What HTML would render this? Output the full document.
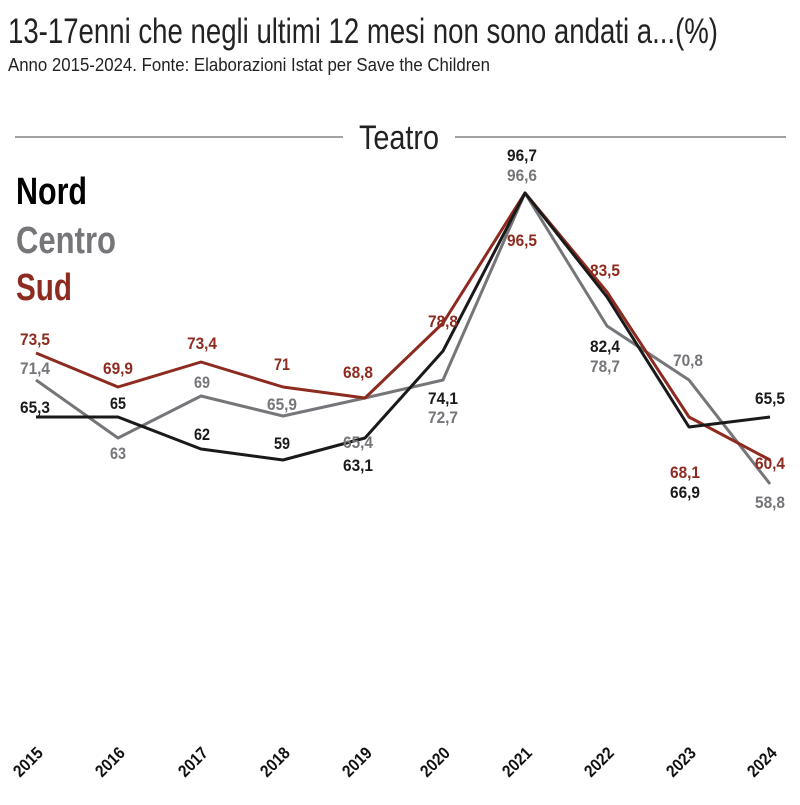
<!DOCTYPE html>
<html><head><meta charset="utf-8"><style>
body{margin:0;background:#fff}
svg text{font-family:"Liberation Sans Narrow","Liberation Sans",sans-serif}
</style></head><body>
<svg width="800" height="800" viewBox="0 0 800 800" xmlns="http://www.w3.org/2000/svg">
<text x="8" y="43" font-size="35" fill="#222" textLength="710" lengthAdjust="spacingAndGlyphs">13-17enni che negli ultimi 12 mesi non sono andati a...(%)</text>
<text x="8" y="71" font-size="18" fill="#222" textLength="482" lengthAdjust="spacingAndGlyphs">Anno 2015-2024. Fonte: Elaborazioni Istat per Save the Children</text>
<line x1="15" y1="137" x2="343" y2="137" stroke="#444" stroke-width="1"/>
<line x1="455" y1="137" x2="786" y2="137" stroke="#444" stroke-width="1"/>
<text x="399" y="149" font-size="34" fill="#222" text-anchor="middle" textLength="80" lengthAdjust="spacingAndGlyphs">Teatro</text>
<g font-weight="bold" font-size="38">
<text x="16" y="204" fill="#000" textLength="71" lengthAdjust="spacingAndGlyphs">Nord</text>
<text x="16" y="253" fill="#76767a" textLength="100" lengthAdjust="spacingAndGlyphs">Centro</text>
<text x="16" y="300" fill="#8e2b20" textLength="56" lengthAdjust="spacingAndGlyphs">Sud</text>
</g>
<g fill="none" stroke-width="3" stroke-linejoin="round">
<polyline stroke="#76767a" points="36,380 118,438 201,396 283,416 365,398 443,380 525,193 607,326 689,380 770,484"/>
<polyline stroke="#8e2b20" points="36,353 118,387 201,362 283,387 365,398 443,323 525,193 607,292 689,417 770,460"/>
<polyline stroke="#1a1a1a" points="36,417 118,417 201,449 283,460 365,438 443,351 525,193 607,297 689,427 770,417"/>
</g>
<g font-weight="bold" font-size="17" text-anchor="middle" lengthAdjust="spacingAndGlyphs">
<g fill="#1a1a1a">
<text x="35" y="413" textLength="30" lengthAdjust="spacingAndGlyphs">65,3</text><text x="118" y="409" textLength="16" lengthAdjust="spacingAndGlyphs">65</text><text x="202" y="440" textLength="16" lengthAdjust="spacingAndGlyphs">62</text><text x="282" y="449" textLength="16" lengthAdjust="spacingAndGlyphs">59</text><text x="358" y="471" textLength="30" lengthAdjust="spacingAndGlyphs">63,1</text><text x="443" y="404" textLength="30" lengthAdjust="spacingAndGlyphs">74,1</text><text x="522" y="161" textLength="30" lengthAdjust="spacingAndGlyphs">96,7</text><text x="605" y="352" textLength="30" lengthAdjust="spacingAndGlyphs">82,4</text><text x="685" y="498" textLength="30" lengthAdjust="spacingAndGlyphs">66,9</text><text x="770" y="404" textLength="30" lengthAdjust="spacingAndGlyphs">65,5</text>
</g>
<g fill="#76767a">
<text x="35" y="374" textLength="30" lengthAdjust="spacingAndGlyphs">71,4</text><text x="118" y="459" textLength="16" lengthAdjust="spacingAndGlyphs">63</text><text x="202" y="388" textLength="16" lengthAdjust="spacingAndGlyphs">69</text><text x="282" y="410" textLength="30" lengthAdjust="spacingAndGlyphs">65,9</text><text x="358" y="448" textLength="30" lengthAdjust="spacingAndGlyphs">65,4</text><text x="443" y="423" textLength="30" lengthAdjust="spacingAndGlyphs">72,7</text><text x="522" y="181" textLength="30" lengthAdjust="spacingAndGlyphs">96,6</text><text x="605" y="372" textLength="30" lengthAdjust="spacingAndGlyphs">78,7</text><text x="688" y="366" textLength="30" lengthAdjust="spacingAndGlyphs">70,8</text><text x="770" y="508" textLength="30" lengthAdjust="spacingAndGlyphs">58,8</text>
</g>
<g fill="#8e2b20">
<text x="35" y="345" textLength="30" lengthAdjust="spacingAndGlyphs">73,5</text><text x="118" y="374" textLength="30" lengthAdjust="spacingAndGlyphs">69,9</text><text x="202" y="349" textLength="30" lengthAdjust="spacingAndGlyphs">73,4</text><text x="282" y="370" textLength="16" lengthAdjust="spacingAndGlyphs">71</text><text x="358" y="378" textLength="30" lengthAdjust="spacingAndGlyphs">68,8</text><text x="443" y="327" textLength="30" lengthAdjust="spacingAndGlyphs">78,8</text><text x="522" y="246" textLength="30" lengthAdjust="spacingAndGlyphs">96,5</text><text x="605" y="276" textLength="30" lengthAdjust="spacingAndGlyphs">83,5</text><text x="685" y="478" textLength="30" lengthAdjust="spacingAndGlyphs">68,1</text><text x="770" y="469" textLength="30" lengthAdjust="spacingAndGlyphs">60,4</text>
</g>
</g>
<g font-weight="bold" font-size="17" fill="#111" text-anchor="end">
<text transform="translate(44,754) rotate(-45)" textLength="34" lengthAdjust="spacingAndGlyphs">2015</text>
<text transform="translate(126,754) rotate(-45)" textLength="34" lengthAdjust="spacingAndGlyphs">2016</text>
<text transform="translate(209,754) rotate(-45)" textLength="34" lengthAdjust="spacingAndGlyphs">2017</text>
<text transform="translate(291,754) rotate(-45)" textLength="34" lengthAdjust="spacingAndGlyphs">2018</text>
<text transform="translate(373,754) rotate(-45)" textLength="34" lengthAdjust="spacingAndGlyphs">2019</text>
<text transform="translate(451,754) rotate(-45)" textLength="34" lengthAdjust="spacingAndGlyphs">2020</text>
<text transform="translate(533,754) rotate(-45)" textLength="34" lengthAdjust="spacingAndGlyphs">2021</text>
<text transform="translate(615,754) rotate(-45)" textLength="34" lengthAdjust="spacingAndGlyphs">2022</text>
<text transform="translate(697,754) rotate(-45)" textLength="34" lengthAdjust="spacingAndGlyphs">2023</text>
<text transform="translate(778,754) rotate(-45)" textLength="34" lengthAdjust="spacingAndGlyphs">2024</text>
</g>
</svg>
</body></html>
